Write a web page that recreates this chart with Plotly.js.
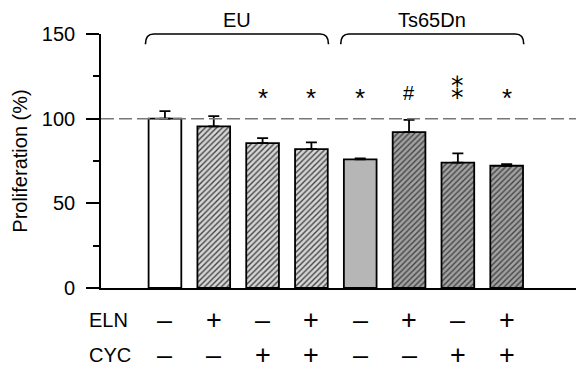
<!DOCTYPE html>
<html>
<head>
<meta charset="utf-8">
<script src="https://cdn.plot.ly/plotly-3.0.1.min.js"></script>
<style>html,body{margin:0;padding:0;background:#fff;}#chart{width:576px;height:369px;}</style>
</head>
<body>
<div id="chart"></div>
<script>
// ---- data ----
const groups = ['EU', 'EU', 'EU', 'EU', 'Ts65Dn', 'Ts65Dn', 'Ts65Dn', 'Ts65Dn'];
const eln    = ['–', '+', '–', '+', '–', '+', '–', '+'];
const cyc    = ['–', '–', '+', '+', '–', '–', '+', '+'];
const proliferation = [100, 95.5, 85.5, 82, 76, 92, 74, 72.2];
const sem           = [4.5, 6, 3, 4, 0.5, 7.3, 5.5, 1];
const signif        = ['', '', '*', '*', '*', '#', '⁑', '*'];
const yTicks = [0, 50, 100, 150];

// ---- styling ----
const FONT = 'Liberation Sans, Arial, sans-serif';
const xs = proliferation.map((_, i) => i);
const fillKind = ['white', 'light', 'light', 'light', 'solid', 'dark', 'dark', 'dark'];
const bgMap = {white: '#ffffff', light: '#d6d6d6', solid: '#b6b6b6', dark: '#a2a2a2'};
const fgMap = {white: '#ffffff', light: '#4a4a4a', solid: '#b6b6b6', dark: '#2a2a2a'};
const shapeMap = {white: '', light: '/', solid: '', dark: '/'};

const trace = {
  type: 'bar',
  x: xs,
  y: proliferation,
  width: 0.67,
  marker: {
    color: fillKind.map(k => bgMap[k]),
    line: {color: '#000', width: 1.8},
    pattern: {
      shape: fillKind.map(k => shapeMap[k]),
      fgcolor: fillKind.map(k => fgMap[k]),
      fgopacity: 1,
      size: 4,
      solidity: 0.35,
      fillmode: 'overlay'
    }
  },
  error_y: {
    type: 'data', symmetric: false, array: sem,
    arrayminus: sem.map(() => 0),
    color: '#000', thickness: 1.8, width: 5.5
  },
  hoverinfo: 'skip',
  showlegend: false
};

const annotations = [];
// significance marks
signif.forEach((s, i) => {
  if (!s) return;
  const isStack = s === '⁑';
  annotations.push({
    x: i, y: isStack ? 117 : 115, xref: 'x', yref: 'y', text: s, showarrow: false,
    font: {family: isStack ? 'DejaVu Sans, sans-serif' : FONT, size: s === '#' ? 20 : (isStack ? 25 : 26), color: '#000'},
    xanchor: 'center', yanchor: 'middle', yshift: s === '*' ? -5 : 0
  });
});
// treatment rows
const rows = [{label: 'ELN', vals: eln, y: -0.126}, {label: 'CYC', vals: cyc, y: -0.264}];
rows.forEach(r => {
  annotations.push({x: -0.03, y: r.y, xref: 'paper', yref: 'paper', text: r.label, showarrow: false,
    xanchor: 'left', yanchor: 'middle', font: {family: FONT, size: 20, color: '#000'}});
  r.vals.forEach((v, i) => {
    annotations.push({x: i, y: r.y, xref: 'x', yref: 'paper', text: v, showarrow: false,
      xanchor: 'center', yanchor: 'middle', font: {family: FONT, size: 27, color: '#000'}});
  });
});

// group brackets
const shapes = [];
const groupNames = [...new Set(groups)];
groupNames.forEach(g => {
  const first = groups.indexOf(g), last = groups.lastIndexOf(g);
  const x0 = first - 0.4, x1 = last + 0.35, r = 0.17;
  const yt = 1.0, yb = 0.96;
  shapes.push({
    type: 'path', xref: 'x', yref: 'paper',
    path: `M ${x0},${yb} Q ${x0},${yt} ${x0 + r},${yt} L ${x1 - r},${yt} Q ${x1},${yt} ${x1},${yb}`,
    line: {color: '#000', width: 1.6}
  });
  annotations.push({x: (first + last) / 2 - 0.03, y: 1.055, xref: 'x', yref: 'paper', text: g, showarrow: false,
    xanchor: 'center', yanchor: 'middle', font: {family: FONT, size: 20, color: '#000'}});
});
// reference line at 100%
shapes.push({type: 'line', xref: 'paper', yref: 'y', x0: 0, x1: 1, y0: 100, y1: 100,
  line: {color: '#777', width: 1.5, dash: '13px,5px'}, layer: 'above'});

const layout = {
  width: 576, height: 369,
  margin: {l: 101, r: 0, t: 34, b: 81},
  paper_bgcolor: '#fff', plot_bgcolor: '#fff',
  font: {family: FONT, size: 20, color: '#000'},
  xaxis: {
    range: [-1.31, 8.42], showgrid: false, zeroline: false, showticklabels: false,
    ticks: '', showline: true, linecolor: '#000', linewidth: 1.8, fixedrange: true
  },
  yaxis: {
    range: [0, 150], tickvals: yTicks, ticktext: yTicks.map(String), showgrid: false, zeroline: false,
    showline: true, linecolor: '#000', linewidth: 1.8,
    ticks: 'outside', ticklen: 13, tickwidth: 1.8, tickcolor: '#000',
    ticklabelstandoff: 7,
    tickfont: {family: FONT, size: 20, color: '#000'},
    minor: {tickvals: [25, 75, 125], ticks: 'outside', ticklen: 6, tickwidth: 1.8, tickcolor: '#000'},
    title: {text: 'Proliferation (%)', font: {family: FONT, size: 20, color: '#000'}, standoff: 9},
    fixedrange: true
  },
  shapes: shapes,
  annotations: annotations,
  bargap: 0.3
};

Plotly.newPlot('chart', [trace], layout, {displayModeBar: false, staticPlot: true});
</script>
</body>
</html>
